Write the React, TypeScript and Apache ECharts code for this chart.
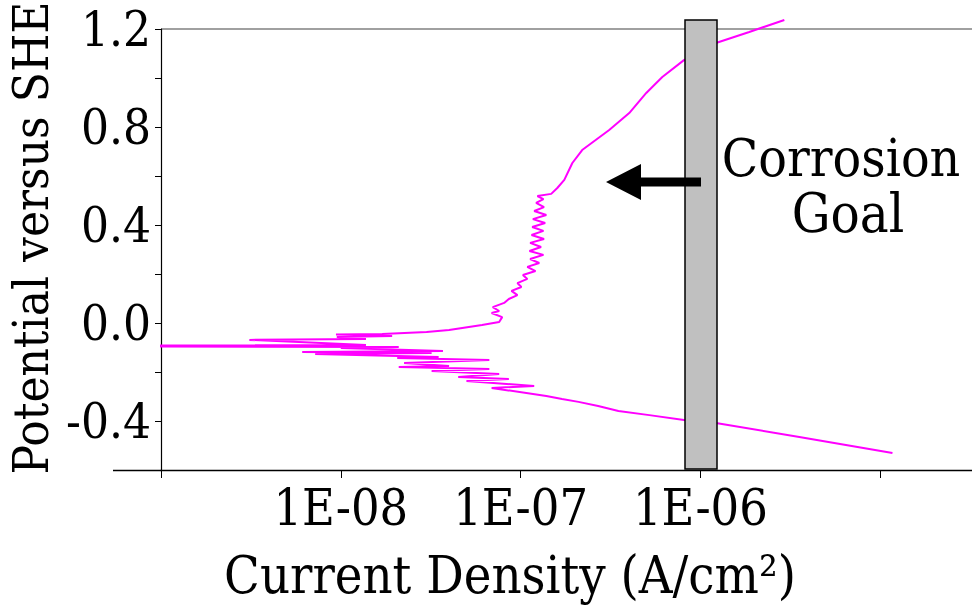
import React, { useEffect, useRef } from "react";
import * as echarts from "echarts";

// Current density (A/cm²), cathodic end first
const currentDensity = [
  1.17e-5, 3.55e-6, 1.22e-6, 8.1e-7, 5.2e-7, 3.5e-7, 2.7e-7, 2.1e-7, 1.7e-7, 1.39e-7,
  6.9e-8, 1.19e-7, 5.0e-8, 8.6e-8, 4.5e-8, 7.6e-8, 3.2e-8, 6.7e-8, 2.1e-8, 4.0e-8,
  2.25e-8, 6.7e-8, 2.06e-8, 3.5e-8, 7.2e-9, 3.2e-8, 6.1e-9, 3.7e-8, 1.0e-8, 2.1e-8,
  1.0e-10, 1.38e-8, 3.1e-9, 1.38e-8, 9.5e-9, 1.93e-8, 9.4e-9, 1.7e-8, 3.0e-8, 4.0e-8,
  6.1e-8, 7.6e-8, 7.9e-8, 6.9e-8, 7.6e-8, 7.0e-8, 8.1e-8, 8.6e-8, 9.6e-8, 8.9e-8,
  1.01e-7, 9.6e-8, 1.09e-7, 1.03e-7, 1.21e-7, 1.09e-7, 1.27e-7, 1.13e-7, 1.34e-7, 1.12e-7,
  1.3e-7, 1.13e-7, 1.35e-7, 1.15e-7, 1.34e-7, 1.16e-7, 1.37e-7, 1.17e-7, 1.39e-7, 1.19e-7,
  1.35e-7, 1.22e-7, 1.34e-7, 1.24e-7, 1.48e-7, 1.6e-7, 1.75e-7, 1.94e-7, 2.2e-7, 3.11e-7,
  4.02e-7, 5.0e-7, 6.14e-7, 8.1e-7, 1.22e-6, 1.87e-6, 2.93e-6,
];

// Potential versus SHE (V), same order
const potential = [
  -0.531, -0.465, -0.408, -0.396, -0.376, -0.359, -0.339, -0.322, -0.31, -0.298,
  -0.265, -0.257, -0.237, -0.229, -0.22, -0.208, -0.196, -0.188, -0.18, -0.176,
  -0.163, -0.151, -0.143, -0.139, -0.127, -0.122, -0.118, -0.114, -0.102, -0.098,
  -0.094, -0.09, -0.069, -0.065, -0.057, -0.053, -0.047, -0.045, -0.037, -0.029,
  -0.008, 0.004, 0.024, 0.041, 0.049, 0.065, 0.082, 0.098, 0.114, 0.131,
  0.147, 0.163, 0.18, 0.196, 0.212, 0.229, 0.245, 0.261, 0.278, 0.294,
  0.31, 0.327, 0.343, 0.359, 0.376, 0.392, 0.408, 0.424, 0.441, 0.457,
  0.473, 0.49, 0.506, 0.518, 0.527, 0.551, 0.584, 0.653, 0.706, 0.788,
  0.857, 0.939, 1.004, 1.073, 1.143, 1.188, 1.237,
];

const xTickLabels = ["1E-08", "1E-07", "1E-06"];
const yTickLabels = ["-0.4", "0.0", "0.4", "0.8", "1.2"];

const FONT = "DejaVu Serif Condensed, DejaVu Serif, serif";

export default function App() {
  const ref = useRef<HTMLDivElement>(null);

  useEffect(() => {
    if (!ref.current) return;
    const chart = echarts.init(ref.current, undefined, { renderer: "svg" });
    const n = Math.min(currentDensity.length, potential.length);
    const data: [number, number][] = [];
    for (let i = 0; i < n; i++) data.push([currentDensity[i], potential[i]]);

    const splitColors = [
      "transparent", "transparent", "transparent", "transparent", "transparent",
      "transparent", "transparent", "transparent", "transparent", "#808080",
    ];

    chart.setOption({
      animation: false,
      backgroundColor: "#ffffff",
      textStyle: { fontFamily: FONT },
      grid: {
        left: 161,
        top: 29,
        height: 441,
        width: 899,
        containLabel: false,
        outerBoundsMode: "none",
      },
      xAxis: {
        type: "log",
        logBase: 10,
        min: 1e-9,
        max: 1e-4,
        axisLine: { show: true, onZero: false, lineStyle: { color: "#000", width: 1.3 } },
        axisTick: { show: true, inside: false, length: 8, lineStyle: { color: "#000" } },
        splitLine: { show: false },
        axisLabel: {
          margin: 13,
          color: "#000",
          fontFamily: FONT,
          fontSize: 50,
          formatter: (v: number) => {
            const e = Math.round(Math.log10(v));
            const s = "1E-0" + -e;
            return xTickLabels.indexOf(s) >= 0 ? s : "";
          },
        },
      },
      yAxis: {
        type: "value",
        min: -0.6,
        max: 1.2,
        interval: 0.2,
        axisLine: { show: true, onZero: false, lineStyle: { color: "#000", width: 1.2 } },
        axisTick: { show: true, inside: false, length: 6, lineStyle: { color: "#000" } },
        splitLine: { show: true, lineStyle: { color: splitColors, width: 1.5 } },
        axisLabel: {
          margin: 10,
          color: "#000",
          fontFamily: FONT,
          fontSize: 49,
          formatter: (v: number) => {
            const s = (Math.abs(v) < 1e-9 ? 0 : v).toFixed(1);
            return yTickLabels.indexOf(s) >= 0 ? s : "";
          },
        },
      },
      series: [
        {
          type: "line",
          data,
          showSymbol: false,
          clip: false,
          lineStyle: { color: "#FF00FF", width: 2 },
          z: 3,
        },
      ],
      graphic: [
        {
          type: "line",
          z: 50,
          shape: { x1: 113, y1: 470.5, x2: 162, y2: 470.5 },
          style: { stroke: "#000", lineWidth: 1.3 },
        },
        {
          type: "rect",
          z: 100,
          shape: { x: 685, y: 20, width: 32, height: 449 },
          style: { fill: "#C0C0C0", stroke: "#000", lineWidth: 1.5 },
        },
        {
          type: "polygon",
          z: 110,
          shape: {
            points: [
              [606, 182], [641, 164], [641, 177.5], [701, 177.5],
              [701, 186.5], [641, 186.5], [641, 200],
            ],
          },
          style: { fill: "#000" },
        },
        {
          type: "text",
          z: 110,
          x: 841,
          y: 157,
          style: {
            text: "Corrosion",
            fill: "#000",
            fontFamily: FONT,
            fontSize: 53,
            align: "center",
            verticalAlign: "middle",
          },
        },
        {
          type: "text",
          z: 110,
          x: 848,
          y: 213,
          style: {
            text: "Goal",
            fill: "#000",
            fontFamily: FONT,
            fontSize: 54,
            align: "center",
            verticalAlign: "middle",
          },
        },
        {
          type: "text",
          z: 110,
          x: 31,
          y: 238,
          rotation: Math.PI / 2,
          style: {
            text: "Potential versus SHE",
            fill: "#000",
            fontFamily: FONT,
            fontSize: 49,
            align: "center",
            verticalAlign: "middle",
          },
        },
        {
          type: "text",
          z: 110,
          x: 510,
          y: 575,
          style: {
            text: "Current Density (A/cm²)",
            fill: "#000",
            fontFamily: FONT,
            fontSize: 52,
            align: "center",
            verticalAlign: "middle",
          },
        },
      ],
    });
    return () => chart.dispose();
  }, []);

  return (
    <div
      ref={ref}
      style={{ position: "absolute", left: 0, top: 0, width: 972, height: 607 }}
    />
  );
}
